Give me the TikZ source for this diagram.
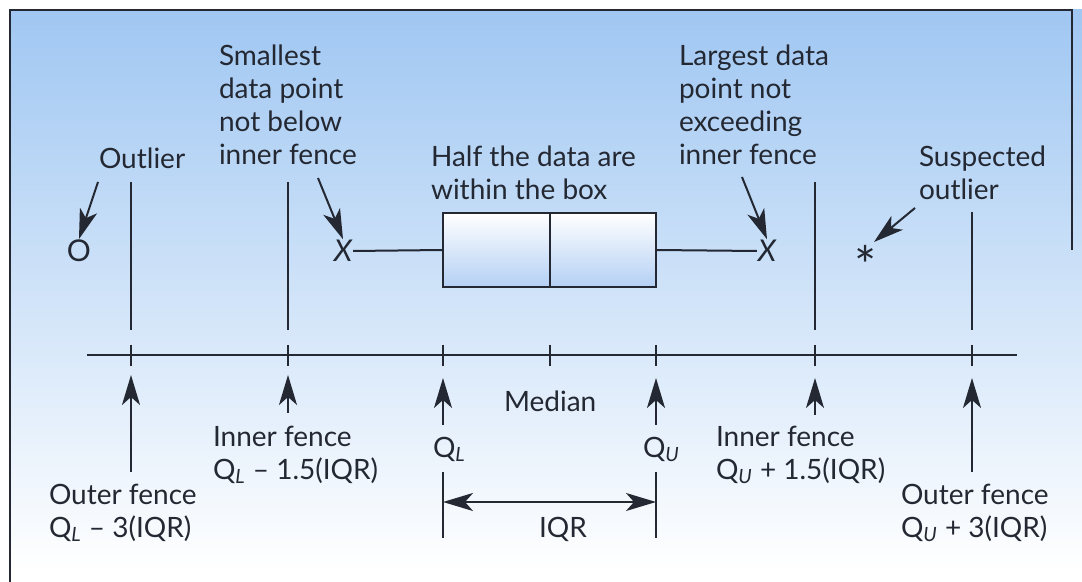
\documentclass[tikz,border=0pt]{standalone}
\usepackage{fontspec}
\setmainfont{Lato}
\usetikzlibrary{arrows.meta}
\definecolor{bgblue}{RGB}{160,199,242}
\definecolor{boxblue}{RGB}{180,208,244}
\definecolor{ink}{RGB}{35,40,50}
\tikzset{
  >={Stealth[length=15pt,width=9pt,inset=4pt]},
  txt/.style={align=left,anchor=north west,inner sep=0pt,text=ink,font=\fontsize{14}{16.5}\selectfont},
  mk/.style={inner sep=0pt,text=ink,font=\fontsize{15}{16.5}\selectfont},
  ln/.style={draw=ink,line width=1pt},
  every picture/.style={line width=1pt},
}
\newcommand{\QL}{Q\textsubscript{\itshape L}}
\newcommand{\QU}{Q\textsubscript{\itshape U}}
\begin{document}
\begin{tikzpicture}[x=0.5pt,y=-0.5pt]
\useasboundingbox (0,0) rectangle (1082,582);
% background and frame
\shade[top color=bgblue,bottom color=white] (10,10) rectangle (1082,572);
\draw[ink,line width=1.2pt] (10,582) -- (10,10) -- (1072,10) -- (1072,250);
% axis with ticks
\coordinate (a0) at (87,355);
\coordinate (a1) at (1017,355);
\draw[ln] (a0) -- (a1);
\foreach \x in {131,288,443,550,656,815,972}
  \draw[ln] (\x,345) -- (\x,366);
% fences above the axis
\draw[ln] (131,182) -- (131,330);
\draw[ln] (288,182) -- (288,330);
\draw[ln] (815,182) -- (815,330);
\draw[ln] (972,212) -- (972,330);
% box and whiskers
\shade[top color=white,bottom color=boxblue] (443,213) rectangle (656,287);
\draw[ln] (443,213) rectangle (656,287);
\draw[ln] (550,213) -- (550,287);
\node[mk] (xlo) at (343,251) {\itshape X};
\node[mk] (xhi) at (767,251) {\itshape X};
\node[mk] (out) at (79,251) {O};
\node[mk,font=\fontsize{26}{26}\selectfont] (sus) at (866,265) {*};
\draw[ln] (xlo.east) -- (443,250);
\draw[ln] (656,250) -- (xhi.west);
% upper labels
\node[txt] (tOut) at (98,147) {Outlier};
\node[txt] (tSmall) at (218,44) {Smallest\\data point\\not below\\inner fence};
\node[txt] (tHalf) at (430,145) {Half the data are\\within the box};
\node[txt] (tLarge) at (678,44) {Largest data\\point not\\exceeding\\inner fence};
\node[txt] (tSus) at (918,145) {Suspected\\outlier};
\draw[->,ln] (98,182) -- (out.north);
\draw[->,ln] (318,178) -- (xlo.north);
\draw[->,ln] (742,177) -- (xhi.north);
\draw[->,ln] (915,208) -- (874,242);
% lower labels
\node[txt] (tOutL) at (48,483) {Outer fence\\\QL{} -- 3(IQR)};
\node[txt] (tInL) at (212,425) {Inner fence\\\QL{} -- 1.5(IQR)};
\node[txt] (tMed) at (503,390) {Median};
\node[txt] (tQL) at (432,436) {\QL};
\node[txt] (tQU) at (642,436) {\QU};
\node[txt] (tInU) at (715,425) {Inner fence\\\QU{} + 1.5(IQR)};
\node[txt] (tOutU) at (900,483) {Outer fence\\\QU{} + 3(IQR)};
\node[txt] (tIQR) at (538,516) {IQR};
\draw[->,ln] (131,472) -- (131,375);
\draw[->,ln] (288,413) -- (288,375);
\draw[->,ln] (443,425) -- (443,378);
\draw[->,ln] (656,425) -- (656,378);
\draw[->,ln] (815,415) -- (815,378);
\draw[->,ln] (972,472) -- (972,378);
% IQR span
\draw[ln] (443,472) -- (443,538);
\draw[ln] (656,472) -- (656,538);
\draw[<->,ln] (443,502) -- (656,502);
\end{tikzpicture}
\end{document}
